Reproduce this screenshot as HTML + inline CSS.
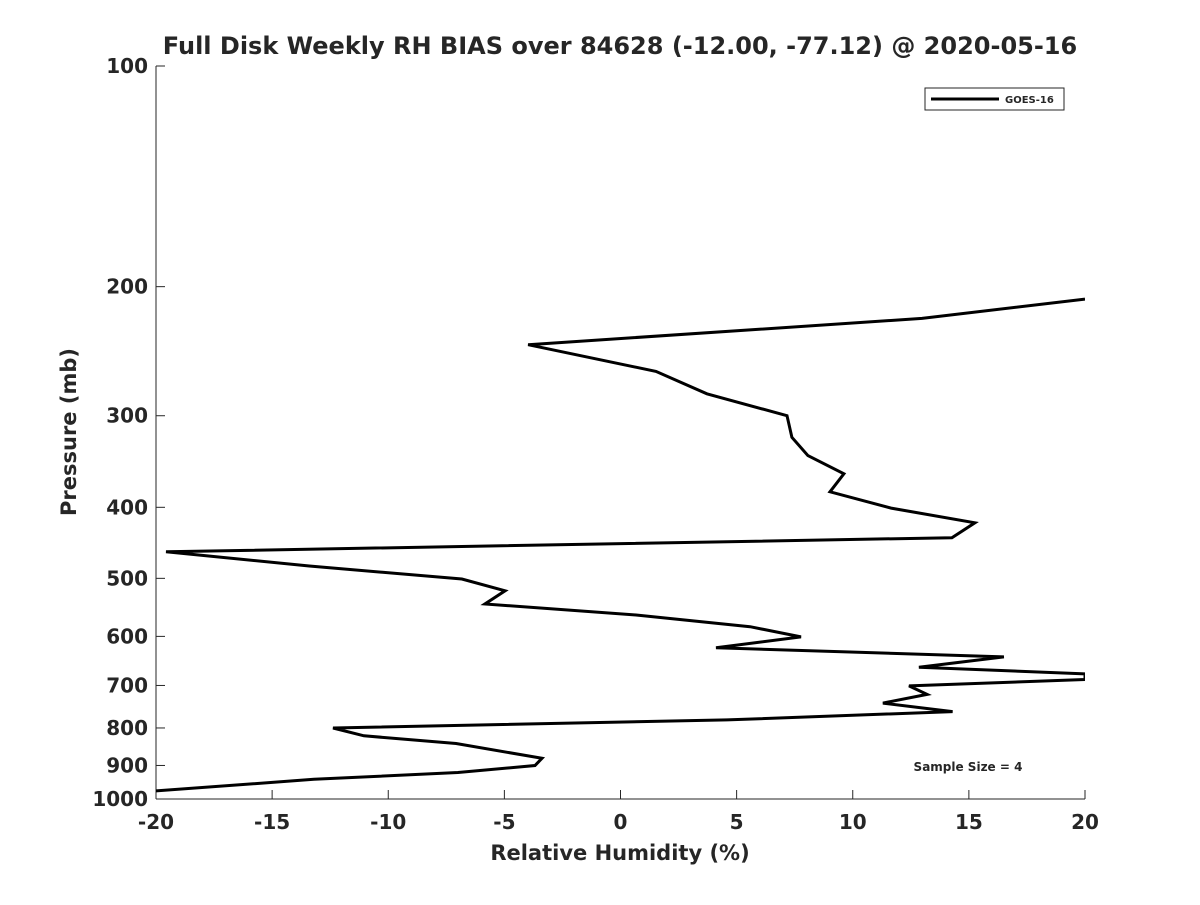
<!DOCTYPE html>
<html><head><meta charset="utf-8"><style>
body{margin:0;background:#fff}
svg text{font-family:"DejaVu Sans","Liberation Sans",sans-serif;font-weight:bold;fill:#262626}
</style></head><body>
<svg id="chart" width="1200" height="900" xmlns="http://www.w3.org/2000/svg">
<rect width="1200" height="900" fill="#fff"/>
<text x="620" y="54" font-size="24" text-anchor="middle">Full Disk Weekly RH BIAS over 84628 (-12.00, -77.12) @ 2020-05-16</text>
<defs><clipPath id="plotclip"><rect x="156" y="66" width="929" height="733"/></clipPath></defs>
<g id="axes"></g>
<g id="series" clip-path="url(#plotclip)"></g>
<text x="620" y="860" font-size="21" text-anchor="middle">Relative Humidity (%)</text>
<text transform="translate(76,432) rotate(-90)" font-size="21" text-anchor="middle">Pressure (mb)</text>
<g>
<rect x="925" y="88" width="139" height="22" fill="#fff" stroke="#262626" stroke-width="1"/>
<line x1="931" y1="99" x2="999" y2="99" stroke="#000" stroke-width="3"/>
<text x="1005" y="103" font-size="10">GOES-16</text>
</g>
<text x="968" y="771" font-size="12" text-anchor="middle">Sample Size = 4</text>
</svg>
<script>
const xTicks=[-20,-15,-10,-5,0,5,10,15,20];
const yTicks=[100,200,300,400,500,600,700,800,900,1000];
const rhValues=[20,12.98,-3.98,1.53,3.72,7.17,7.38,8.07,9.62,9.02,11.65,15.26,14.27,-19.57,-13.4,-6.83,-4.97,-5.84,0.67,5.58,7.77,4.11,16.51,12.85,20,20,12.42,13.2,11.3,14.3,4.58,-12.38,-11.05,-7.08,-3.38,-3.68,-7.0,-13.2,-21];
const pressures=[208,221,240,261,280,300,321,340,360,381,401,420,440,460,481,501,520,542,561,582,601,622,640,661,675,687,701,720,740,760,780,800,820,840,880,900,920,940,980];
const L=156,R=1085,T=66,B=799;
const xs=v=>L+(v+20)/40*(R-L);
const ys=p=>T+(Math.log10(p)-2)*(B-T);
const NS="http://www.w3.org/2000/svg";
const ax=document.getElementById('axes');
function mk(t,a,p){const e=document.createElementNS(NS,t);for(const k in a)e.setAttribute(k,a[k]);p.appendChild(e);return e;}
const yl=mk('line',{x1:L,y1:T,x2:L,y2:B,stroke:'#262626','stroke-width':1},ax);


const xl=mk('line',{x1:L,y1:B,x2:R,y2:B,stroke:'#262626','stroke-width':1},ax);


xTicks.forEach(v=>{
 mk('line',{x1:xs(v),y1:B,x2:xs(v),y2:B-9,stroke:'#262626'},ax);
 const t=mk('text',{x:xs(v),y:B+30,'font-size':20,'text-anchor':'middle'},ax);
 t.textContent=v;
 
 
});
yTicks.forEach(p=>{
 mk('line',{x1:L,y1:ys(p),x2:L+9,y2:ys(p),stroke:'#262626'},ax);
 const t=mk('text',{x:L-8,y:ys(p)+7,'font-size':20,'text-anchor':'end'},ax);
 t.textContent=p;
 
 
});
const pts=rhValues.map((v,i)=>xs(v).toFixed(1)+','+ys(pressures[i]).toFixed(1)).join(' ');
const pl=mk('polyline',{points:pts,fill:'none',stroke:'#000','stroke-width':3,'stroke-linejoin':'miter'},document.getElementById('series'));


</script>
</body></html>
